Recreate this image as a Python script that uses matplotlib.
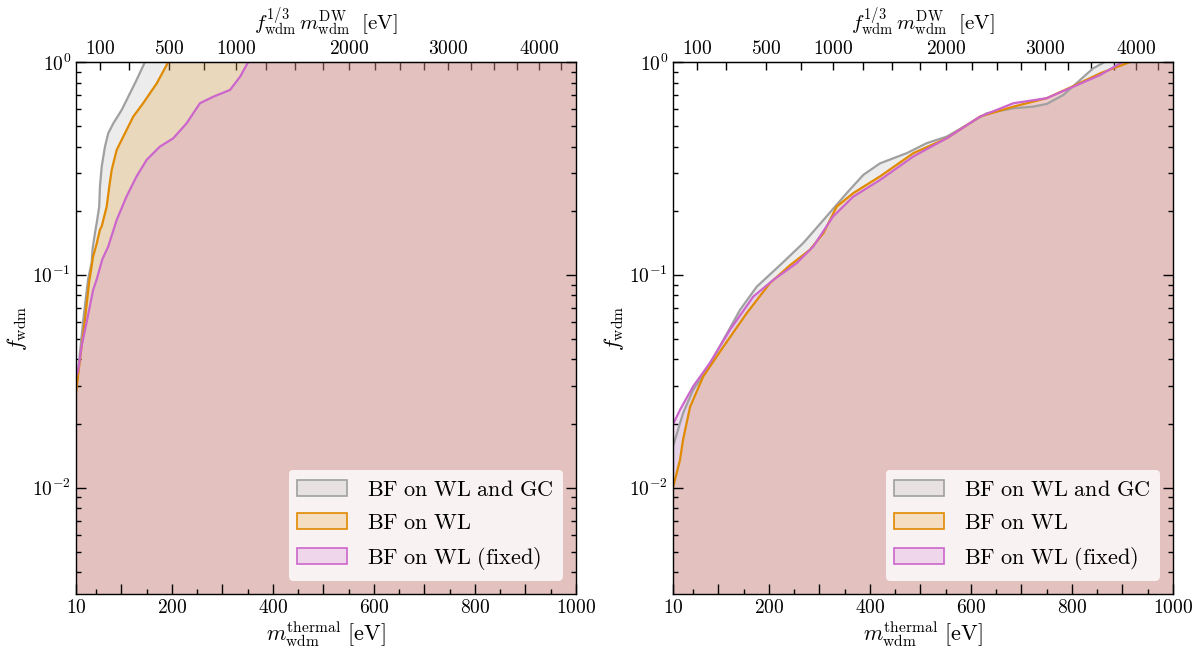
import numpy as np
import matplotlib
matplotlib.use('Agg')
import matplotlib.pyplot as plt
from matplotlib.patches import Patch

plt.rcParams['mathtext.fontset'] = 'cm'
plt.rcParams['font.family'] = ['DejaVu Serif']

# left panel: thermal mass [eV] vs f_wdm boundary
left_gray_m = [10, 11, 16.5, 24.5, 34, 41, 43, 47.6, 52, 56, 57.5, 61, 67.4, 74, 84, 100.5, 113.6, 130, 146.6]
left_gray_f = [0.028, 0.0298, 0.040, 0.0615, 0.095, 0.114, 0.133, 0.157, 0.181, 0.209, 0.26, 0.323, 0.40, 0.463, 0.515, 0.595, 0.687, 0.823, 1.0]
left_orange_m = [10, 11, 18, 27.8, 36, 44, 51, 57.5, 61, 70.8, 76, 80.7, 90.6, 103.7, 123.5, 143, 170, 192.8]
left_orange_f = [0.028, 0.029, 0.040, 0.0615, 0.092, 0.122, 0.14, 0.163, 0.169, 0.209, 0.26, 0.311, 0.386, 0.446, 0.554, 0.64, 0.794, 1.0]
left_pink_m = [10, 14.6, 21, 31, 44, 51, 62, 74, 90.6, 110, 130, 150, 176, 202.6, 229, 255.5, 282, 315, 335, 351]
left_pink_f = [0.033, 0.0358, 0.046, 0.0596, 0.085, 0.095, 0.118, 0.136, 0.181, 0.233, 0.29, 0.347, 0.40, 0.438, 0.515, 0.64, 0.687, 0.739, 0.853, 1.0]

# right panel
right_gray_m = [10, 30, 50, 77, 110, 143, 176, 222, 268, 308, 354, 387, 420, 473, 512, 552, 592, 631, 684, 723, 750, 783, 816, 842, 865]
right_gray_f = [0.0156, 0.0224, 0.0288, 0.0358, 0.0495, 0.0685, 0.088, 0.111, 0.141, 0.181, 0.242, 0.295, 0.334, 0.373, 0.415, 0.446, 0.506, 0.574, 0.606, 0.617, 0.635, 0.70, 0.823, 0.934, 1.0]
right_orange_m = [10, 24, 30, 44, 70, 110, 156, 202, 242, 281, 308, 334, 367, 420, 486, 552, 618, 684, 750, 803, 856, 915]
right_orange_f = [0.010, 0.0135, 0.0168, 0.024, 0.0333, 0.046, 0.066, 0.0914, 0.111, 0.131, 0.157, 0.209, 0.242, 0.29, 0.373, 0.438, 0.554, 0.617, 0.676, 0.771, 0.885, 1.0]
right_pink_m = [10, 24, 50, 83, 123, 169, 209, 255, 288, 327, 367, 420, 486, 552, 618, 684, 750, 803, 856, 900]
right_pink_f = [0.0198, 0.0232, 0.0299, 0.0385, 0.0552, 0.079, 0.0947, 0.1135, 0.136, 0.188, 0.233, 0.279, 0.36, 0.438, 0.554, 0.64, 0.676, 0.766, 0.869, 1.0]

labels = [r'$\mathrm{BF\ on\ WL\ and\ GC}$', r'$\mathrm{BF\ on\ WL}$', r'$\mathrm{BF\ on\ WL\ (fixed)}$']
colors = ['#a0a0a0', '#e08a00', '#cc66cc']

xticks = [10, 100, 200, 300, 400, 500, 600, 700, 800, 900, 1000]
xticklabels = ['$10$', '', '$200$', '', '$400$', '', '$600$', '', '$800$', '', '$1000$']
top_ticks = [100, 250, 500, 750, 1000, 1250, 1500, 1750, 2000, 2250, 2500, 2750,
             3000, 3250, 3500, 3750, 4000, 4250]
top_labels = ['$%d$' % t if t in (100, 500, 1000, 2000, 3000, 4000) else '' for t in top_ticks]


def to_dw(m):
    m = np.asarray(m, dtype=float)
    return np.sign(m) * 0.443 * np.abs(m) ** (4.0 / 3.0)


def to_th(d):
    d = np.asarray(d, dtype=float)
    return np.sign(d) * (np.abs(d) / 0.443) ** 0.75


def drawPanel(ax, curves):
    ymin = 10 ** -2.5
    for (m, f), c in zip(curves, colors):
        ax.fill_between(list(m) + [1000], list(f) + [1.0], 1e-4, color=c, alpha=0.2, lw=0)
    for (m, f), c in zip(curves, colors):
        ax.plot(m, f, color=c, lw=1.6)
    ax.set_yscale('log')
    ax.set_xlim(10, 1000)
    ax.set_ylim(ymin, 1)
    ax.set_xticks(xticks, xticklabels)
    ax.set_xticks(np.arange(50, 1000, 100), minor=True)
    ax.set_yticks([1e-2, 1e-1, 1], [r'$10^{-2}$', r'$10^{-1}$', r'$10^{0}$'])
    ax.tick_params(which='both', direction='in', right=True, top=False, labelsize=14, width=1)
    ax.tick_params(which='major', length=7)
    ax.tick_params(which='minor', length=3.5)
    for s in ax.spines.values():
        s.set_linewidth(1.0)
    ax.set_xlabel(r'$m_{\rm wdm}^{\rm thermal}\ [\rm eV]$', fontsize=16, labelpad=2)
    ax.set_ylabel(r'$f_{\rm wdm}$', fontsize=16, labelpad=2)
    sec = ax.secondary_xaxis('top', functions=(to_dw, to_th))
    sec.set_xticks(top_ticks, top_labels)
    sec.tick_params(direction='in', length=6, width=1, labelsize=14, pad=3)
    sec.set_xlabel(r'$f_{\rm wdm}^{1/3}\, m_{\rm wdm}^{\rm DW}\ \ [\rm eV]$', fontsize=15, labelpad=7)
    handles = []
    for c in colors:
        handles.append(Patch(facecolor=matplotlib.colors.to_rgba(c, 0.2), edgecolor=c, linewidth=1.2))
    leg = ax.legend(handles, labels, loc='lower right', fontsize=16, handlelength=2.25,
                    handleheight=0.75, labelspacing=0.5, framealpha=0.8,
                    borderaxespad=0.6, handletextpad=0.9, borderpad=0.4)
    leg.get_frame().set_edgecolor('none')


fig = plt.figure(figsize=(12, 6.58), dpi=100)
ax1 = fig.add_axes([0.0633, 0.0973, 0.4167, 0.8085])
ax2 = fig.add_axes([0.5608, 0.0973, 0.4167, 0.8085])

drawPanel(ax1, [(left_gray_m, left_gray_f), (left_orange_m, left_orange_f), (left_pink_m, left_pink_f)])
drawPanel(ax2, [(right_gray_m, right_gray_f), (right_orange_m, right_orange_f), (right_pink_m, right_pink_f)])

plt.savefig('out.png', dpi=100)
